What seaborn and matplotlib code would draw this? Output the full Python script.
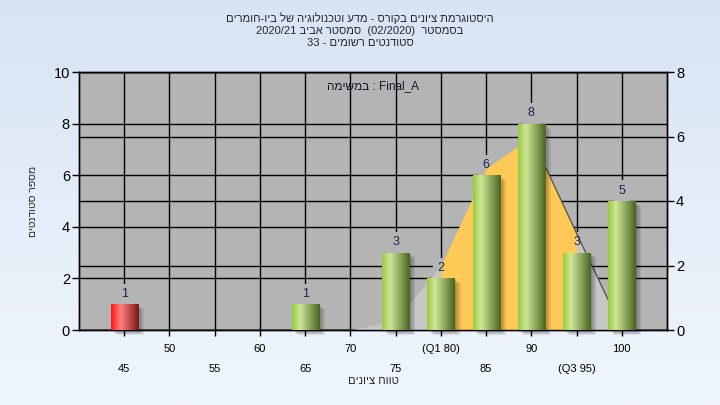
import re
import numpy as np
import pandas as pd
import matplotlib
matplotlib.use("Agg")
import matplotlib.pyplot as plt
import seaborn as sns
from matplotlib.colors import LinearSegmentedColormap
from matplotlib.patches import Rectangle
from matplotlib.transforms import ScaledTranslation

# ---- data ----
grades = [45, 65, 75, 80, 85, 90, 95, 100]
students = [1, 1, 3, 2, 6, 8, 3, 5]
fail_grades = [45]

# smoothed distribution, drawn against the right axis
curve_x = [70, 75, 80, 85, 90, 95, 100]
curve_y = [0.0, 0.3, 2.0, 5.0, 6.0, 3.0, 0.05]
q1, q3 = 80, 95

tick_values = list(range(45, 101, 5))

title_lines = ["היסטוגרמת ציונים בקורס - מדע וטכנולוגיה של ביו-חומרים",
               "בסמסטר  (02/2020)  סמסטר אביב 2020/21",
               "סטודנטים רשומים - 33"]
x_title = "טווח ציונים"
y_title = "מספר סטודנטים"
task_note = "במשימה : Final_A"

HEB = re.compile('[\u0590-\u05FF]')


def visual(s, rtl=True):
    # matplotlib has no bidi, so hebrew words get flipped by hand
    words = [w[::-1] if HEB.search(w) else w for w in s.split(' ')]
    return ' '.join(words[::-1] if rtl else words)


def tick_text(v):
    if v == q1:
        return "(Q1 %d)" % v
    if v == q3:
        return "(Q3 %d)" % v
    return str(v)


sns.set_theme(style="white")
plt.rcParams['font.family'] = ['Liberation Sans', 'DejaVu Sans']

fig = plt.figure(figsize=(7.2, 4.05), dpi=100)

# light blue gradient behind everything
bg = fig.add_axes([0, 0, 1, 1], zorder=-5)
bg.imshow(np.linspace(0, 1, 256).reshape(-1, 1), aspect='auto', extent=[0, 1, 0, 1],
          cmap=LinearSegmentedColormap.from_list('bg', ['#d8e4f4', '#f0f6fd']))
bg.axis('off')

ax = fig.add_axes([79 / 720, 75 / 405, 588 / 720, 258 / 405])
ax2 = ax.twinx()
ax.set_zorder(2)
ax2.set_zorder(1)
ax.patch.set_visible(False)
plot_bg = '#b4b4b4'
ax2.patch.set_visible(True)
ax2.set_facecolor(plot_bg)

# bars
df = pd.DataFrame({'grade': grades, 'students': students})
df['fail'] = df['grade'].isin(fail_grades)
sns.barplot(data=df, x='grade', y='students', hue='fail', dodge=False,
            palette={True: '#e02020', False: '#8fbf3f'}, native_scale=True,
            width=0.6, saturation=1, legend=False, linewidth=0, zorder=3, ax=ax)

green = LinearSegmentedColormap.from_list('g', [(0, '#98c840'), (0.28, '#cfe898'), (1, '#4a6520')])
red = LinearSegmentedColormap.from_list('r', [(0, '#ff1414'), (0.35, '#ff8080'), (1, '#7e1515')])
shade = np.linspace(0, 1, 64).reshape(1, -1)

bars = list(ax.patches)
for bar in bars:
    x0, w, h = bar.get_x(), bar.get_width(), bar.get_height()
    cmap = red if round(x0 + w / 2) in fail_grades else green
    for k in range(1, 5):
        off = ScaledTranslation(k * 1.1 / 72, -k * 0.9 / 72, fig.dpi_scale_trans)
        ax.add_patch(Rectangle((x0, 0), w, h, transform=ax.transData + off, fc='black',
                               ec='none', alpha=0.09, zorder=2.5, clip_on=False))
    im = ax.imshow(shade, cmap=cmap, aspect='auto', extent=(x0, x0 + w, 0, h),
                   zorder=3.1, interpolation='bicubic')
    im.set_clip_path(bar)

# distribution polygon: orange between Q1 and Q3, pale grey outside
cx = np.array(curve_x)
cy = np.array(curve_y)
ax.fill_between(cx, cy, where=cx <= q1, color='#c6c6c6', lw=0, zorder=1, transform=ax2.transData)
ax.fill_between(cx, cy, where=cx >= q3, color='#c6c6c6', lw=0, zorder=1, transform=ax2.transData)
ax.fill_between(cx, cy, where=(cx >= q1) & (cx <= q3), color='#ffc955', lw=0, zorder=1.2,
                transform=ax2.transData)
peak = int(np.argmax(cy))
ax.plot(cx[peak:], cy[peak:], color='#505050', lw=0.9, zorder=1.5, transform=ax2.transData)

# value labels (grey box hides the grid between label and bar)
for g, n in zip(grades, students):
    ax.annotate(str(n), (g, n), xytext=(0, 3), textcoords='offset points', ha='center',
                va='bottom', fontsize=9, color='none', zorder=0.8,
                bbox=dict(boxstyle='square,pad=0.35', fc=plot_bg, ec='none'))
    ax.annotate(str(n), (g, n), xytext=(0, 3), textcoords='offset points', ha='center',
                va='bottom', fontsize=9, color='#1a2550', zorder=6)

ax.set_xlim(40, 105)
ax.set_ylim(0, 10)
ax2.set_ylim(0, 8)
ax.set_yticks(range(0, 11, 2))
ax2.set_yticks(range(0, 9, 2))

major = tick_values[1::2]
minor = tick_values[0::2]
ax.set_xticks(major)
ax.set_xticklabels([tick_text(v) for v in major])
ax.set_xticks(minor, minor=True)
ax.set_xticklabels([tick_text(v) for v in minor], minor=True)
ax.set_xlabel('')
ax.set_ylabel('')

ax.grid(True, which='both', axis='x', color='black', lw=1)
ax.grid(True, axis='y', color='black', lw=1)
ax2.grid(True, axis='y', color='black', lw=1)
ax.set_axisbelow(True)
ax2.set_axisbelow(True)

for a in (ax, ax2):
    for s in a.spines.values():
        s.set_color('black')
        s.set_linewidth(1)

ax.tick_params(axis='y', left=True, direction='out', length=5, width=1, color='black',
               labelsize=10.5, pad=1.5, labelcolor='black')
ax2.tick_params(axis='y', right=True, direction='out', length=5, width=1, color='black',
                labelsize=10.5, pad=1.5, labelcolor='black')
ax.tick_params(axis='x', which='both', bottom=True, direction='out', length=4, width=1,
               color='black', labelsize=8, labelcolor='black')
ax.tick_params(axis='x', which='major', pad=6)
ax.tick_params(axis='x', which='minor', pad=20.5)

ax.text(0.5, 0.945, visual(task_note, rtl=False), transform=ax.transAxes, ha='center',
        va='center', fontsize=8.5, color='#1e1030', zorder=6)

for i, line in enumerate(title_lines):
    fig.text(0.5, 1 - (18 + 12.5 * i) / 405, visual(line), ha='center', va='center', fontsize=8)
fig.text(33 / 720, 1 - 201 / 405, visual(y_title), rotation=90, ha='center', va='center',
         fontsize=7.5)
fig.text(373 / 720, 1 - 381 / 405, visual(x_title), ha='center', va='center', fontsize=8)

fig.savefig('out.png', dpi=100)
